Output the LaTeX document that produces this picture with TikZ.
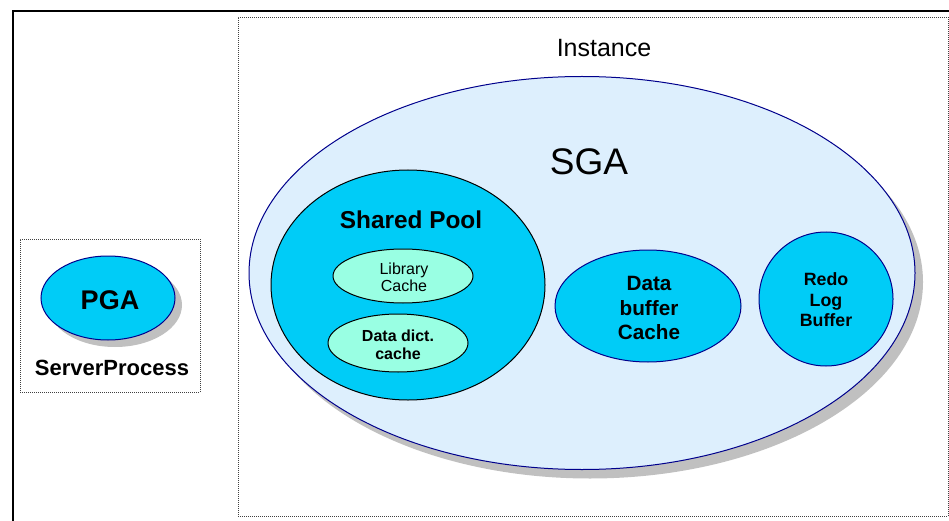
\documentclass[tikz,border=0pt]{standalone}
\usepackage{fontspec}
\setmainfont{Liberation Sans}
\usetikzlibrary{shapes.geometric}
\definecolor{sgafill}{HTML}{DDEFFD}
\definecolor{cyanfill}{HTML}{00CCF7}
\definecolor{aquafill}{HTML}{99FFE3}
\definecolor{navy}{HTML}{00008C}
\definecolor{shadowgray}{HTML}{C0C0C0}
\tikzset{
  blob/.style={ellipse, inner sep=0pt, line width=1pt},
  shade/.style={ellipse, inner sep=0pt, fill=shadowgray, draw=none},
  dotbox/.style={draw=black!75, line width=0.9pt, dash pattern=on 1pt off 1pt},
  lbl/.style={inner sep=0pt, align=center, font=\bfseries},
}
\begin{document}
\begin{tikzpicture}[x=1pt,y=-1pt]
\useasboundingbox (0,0) rectangle (949,521);
% outer frame
\coordinate (ftl) at (13,11);
\coordinate (ftr) at (949,11);
\coordinate (fbl) at (13,521);
\draw[line width=2.2pt] (fbl) -- (ftl) -- (ftr);
% instance box
\node[dotbox, minimum width=710, minimum height=499, inner sep=0pt] (inst) at (593,266.5) {};
\node[inner sep=0pt, font=\fontsize{25}{28}\selectfont] (instl) at (604,48) {Instance};
% SGA
\node[shade, minimum width=666, minimum height=393] (sgash) at (590,282) {};
\node[blob, draw=navy, fill=sgafill, minimum width=666, minimum height=393] (sga) at (582,273) {};
\node[inner sep=0pt, font=\fontsize{37}{40}\selectfont] (sgal) at (589,162) {SGA};
% shared pool
\node[blob, draw=black, fill=cyanfill, minimum width=274, minimum height=230] (sp) at (408,285) {};
\node[lbl, font=\bfseries\fontsize{24.4}{26}\selectfont] (spl) at (411,220) {Shared Pool};
\node[blob, draw=black, fill=aquafill, minimum width=140, minimum height=54] (lc) at (403,276) {};
\node[inner sep=0pt, align=center, font=\fontsize{16}{17}\selectfont] (lcl) at (404,277) {Library\\Cache};
\node[blob, draw=black, fill=aquafill, minimum width=140, minimum height=58] (dd) at (398,343) {};
\node[lbl, font=\bfseries\fontsize{16}{17.5}\selectfont] (ddl) at (398,345) {Data dict.\\cache};
% data buffer cache
\node[blob, draw=navy, fill=cyanfill, minimum width=186, minimum height=112] (db) at (648,306) {};
\node[lbl, font=\bfseries\fontsize{20.7}{24.5}\selectfont] (dbl) at (649,308) {Data\\buffer\\Cache};
% redo log buffer
\node[blob, draw=navy, fill=cyanfill, minimum width=134, minimum height=134] (rl) at (826,299) {};
\node[lbl, font=\bfseries\fontsize{17.8}{20.5}\selectfont] (rll) at (826,300) {Redo\\Log\\Buffer};
% server process
\node[dotbox, minimum width=180, minimum height=153, inner sep=0pt] (srv) at (110,315.5) {};
\node[shade, minimum width=134, minimum height=84] (pgash) at (115,305) {};
\node[blob, draw=navy, fill=cyanfill, minimum width=134, minimum height=84] (pga) at (108,298) {};
\node[lbl, font=\bfseries\fontsize{27}{30}\selectfont] (pgal) at (110,300) {PGA};
\node[lbl, font=\bfseries\fontsize{22}{24}\selectfont] (srvl) at (112,368) {ServerProcess};
\end{tikzpicture}
\end{document}
